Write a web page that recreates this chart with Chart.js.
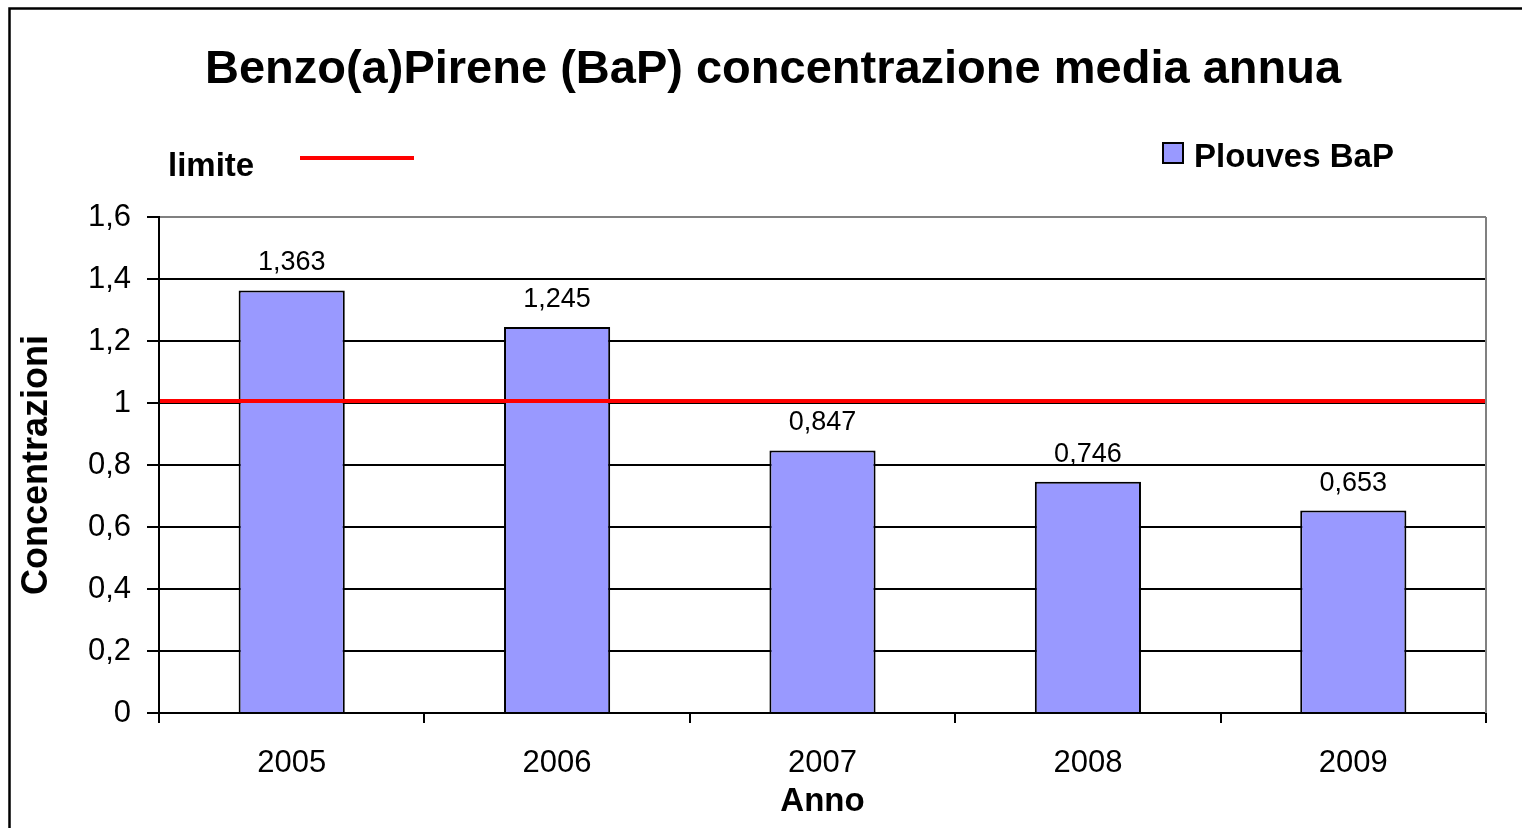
<!DOCTYPE html>
<html>
<head>
<meta charset="utf-8">
<title>Benzo(a)Pirene (BaP) concentrazione media annua</title>
<script src="https://cdn.jsdelivr.net/npm/chart.js@4.4.1/dist/chart.umd.min.js"></script>
<style>
    body { margin: 0; background: #fff; }
    #wrap { width: 1522px; height: 828px; position: relative; }
</style>
</head>
<body>
<div id="wrap"><canvas id="bapChart"></canvas></div>
<script>
// Dati
const anni = ["2005", "2006", "2007", "2008", "2009"];
const plouvesBaP = [1.363, 1.245, 0.847, 0.746, 0.653];
const limite = 1;
const yMin = 0;
const yMax = 1.6;
const yStep = 0.2;

const titolo = "Benzo(a)Pirene (BaP) concentrazione media annua";
const FONT = "'Liberation Sans', Arial, sans-serif";

// formatta i numeri con la virgola
function virgola(v) {
    return String(Number(v.toFixed(3))).replace(".", ",");
}

// disegna titolo, legenda, linea limite ed etichette
const decorazioni = {
    id: "decorazioni",
    afterDraw(chart) {
        const ctx = chart.ctx;
        const area = chart.chartArea;
        const y = chart.scales.y;

        ctx.save();

        // cornice esterna
        ctx.strokeStyle = "#000";
        ctx.lineWidth = 2.5;
        ctx.beginPath();
        ctx.moveTo(9.5, 840);
        ctx.lineTo(9.5, 8.5);
        ctx.lineTo(1530, 8.5);
        ctx.stroke();

        // bordo destro dell'area del grafico
        ctx.strokeStyle = "#808080";
        ctx.lineWidth = 2;
        ctx.beginPath();
        ctx.moveTo(area.right, area.top);
        ctx.lineTo(area.right, area.bottom);
        ctx.stroke();

        // linea limite
        const yl = y.getPixelForValue(limite) - 2;
        ctx.strokeStyle = "#ff0000";
        ctx.lineWidth = 4;
        ctx.beginPath();
        ctx.moveTo(area.left + 1, yl);
        ctx.lineTo(area.right - 1, yl);
        ctx.stroke();

        // etichette sopra le barre
        const meta = chart.getDatasetMeta(0);
        ctx.fillStyle = "#000";
        ctx.font = "27px " + FONT;
        ctx.textAlign = "center";
        ctx.textBaseline = "alphabetic";
        meta.data.forEach(function (bar, i) {
            ctx.fillText(virgola(plouvesBaP[i]), bar.x, bar.y - 20);
        });

        // titolo
        ctx.font = "bold 47px " + FONT;
        ctx.fillText(titolo, 773, 83);

        // legenda: limite
        ctx.font = "bold 33px " + FONT;
        ctx.textAlign = "left";
        ctx.fillText("limite", 168, 176);
        ctx.strokeStyle = "#ff0000";
        ctx.lineWidth = 4;
        ctx.beginPath();
        ctx.moveTo(300, 158);
        ctx.lineTo(414, 158);
        ctx.stroke();

        // legenda: Plouves BaP
        ctx.fillStyle = "#9999ff";
        ctx.fillRect(1163, 143, 20, 20);
        ctx.strokeStyle = "#000";
        ctx.lineWidth = 2;
        ctx.strokeRect(1163, 143, 20, 20);
        ctx.fillStyle = "#000";
        ctx.fillText("Plouves BaP", 1194, 167);

        ctx.restore();
    }
};

const sfondo = {
    id: "sfondo",
    beforeDraw(chart) {
        const ctx = chart.ctx;
        ctx.save();
        ctx.fillStyle = "#fff";
        ctx.fillRect(0, 0, chart.width, chart.height);
        ctx.restore();
    }
};

const ctx = document.getElementById("bapChart").getContext("2d");
new Chart(ctx, {
    type: "bar",
    data: {
        labels: anni,
        datasets: [{
            label: "Plouves BaP",
            data: plouvesBaP,
            backgroundColor: "#9999ff",
            borderColor: "#000",
            borderWidth: 2,
            barPercentage: 0.4,
            categoryPercentage: 1
        }]
    },
    options: {
        responsive: true,
        maintainAspectRatio: false,
        animation: false,
        layout: {
            padding: { left: 9, top: 217, right: 36, bottom: 0 }
        },
        plugins: {
            legend: { display: false },
            title: { display: false },
            tooltip: { enabled: false }
        },
        scales: {
            x: {
                afterFit: function (scale) { scale.height = 115; },
                grid: {
                    offset: true,
                    drawOnChartArea: false,
                    drawTicks: true,
                    tickLength: 10,
                    tickColor: "#000",
                    lineWidth: 2
                },
                border: { color: "#000", width: 2 },
                ticks: {
                    color: "#000",
                    font: { family: FONT, size: 31 },
                    padding: 22,
                    maxRotation: 0
                },
                title: {
                    display: true,
                    text: "Anno",
                    color: "#000",
                    font: { family: FONT, size: 33, weight: "bold" },
                    padding: { top: 0, bottom: 6 }
                }
            },
            y: {
                min: yMin,
                max: yMax,
                afterFit: function (scale) { scale.width = 150; },
                grid: {
                    color: function (c) {
                        return c.tick && Math.abs(c.tick.value - yMax) < 1e-6 ? "#808080" : "#000";
                    },
                    lineWidth: 2,
                    tickLength: 12,
                    tickColor: "#000"
                },
                border: { color: "#000", width: 2 },
                ticks: {
                    stepSize: yStep,
                    color: "#000",
                    font: { family: FONT, size: 31 },
                    padding: 16,
                    callback: function (v) { return virgola(Number(v.toFixed(1))); }
                },
                title: {
                    display: true,
                    text: "Concentrazioni",
                    color: "#000",
                    font: { family: FONT, size: 36, weight: "bold" },
                    padding: { top: 6, bottom: 0 }
                }
            }
        }
    },
    plugins: [sfondo, decorazioni]
});
</script>
</body>
</html>
